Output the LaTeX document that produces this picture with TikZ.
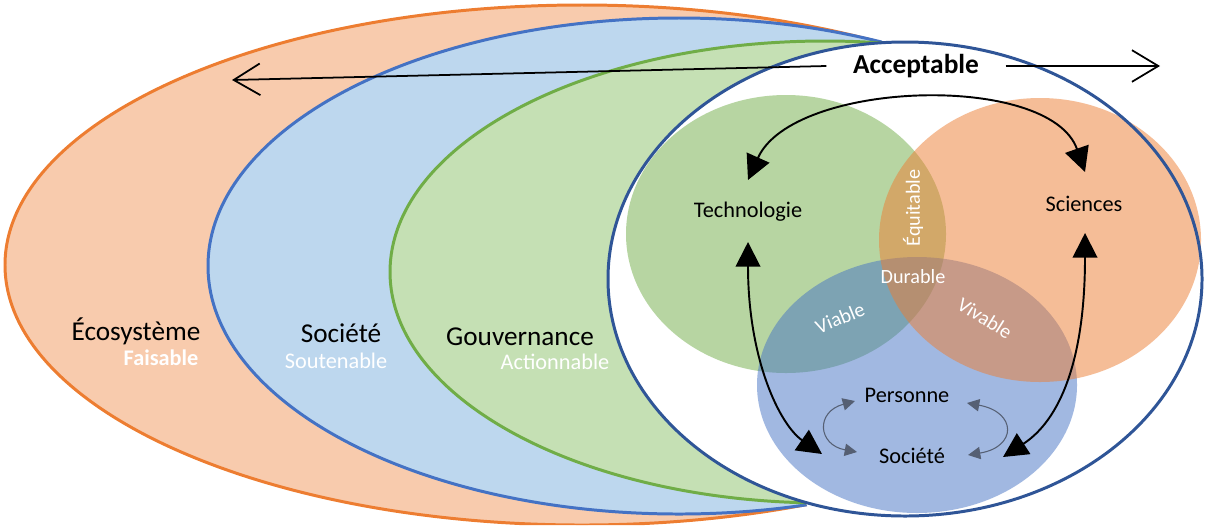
\documentclass[tikz,border=0pt]{standalone}
\usepackage{fontspec}
\setmainfont{Carlito}
\usepackage{xcolor}
\usetikzlibrary{arrows.meta, calc}

\definecolor{ecoorange}{HTML}{ED7D31}
\definecolor{ecofill}{HTML}{F8CBAD}
\definecolor{socblue}{HTML}{4472C4}
\definecolor{socfill}{HTML}{BDD7EE}
\definecolor{govgreen}{HTML}{70AD47}
\definecolor{govfill}{HTML}{C5E0B4}
\definecolor{accblue}{HTML}{2F5597}
\definecolor{slate}{RGB}{85,95,115}

\begin{document}
\begin{tikzpicture}[x=0.02cm, y=-0.02cm,
    bigfont/.style={font=\fontsize{15.5}{18}\selectfont},
    subfont/.style={font=\fontsize{12.7}{15}\selectfont, text=white},
    vennfont/.style={font=\fontsize{12.7}{15}\selectfont},
    interfont/.style={font=\fontsize{11.5}{14}\selectfont, text=white},
    link/.style={line width=1.1pt, {Triangle[length=14pt,width=14pt]}-{Triangle[length=14pt,width=14pt]}},
    minilink/.style={draw=slate, line width=0.6pt, {Triangle[length=7pt,width=7pt]}-{Triangle[length=7pt,width=7pt]}},
    spanline/.style={line width=1pt, -{Straight Barb[length=15pt,width=18pt]}}]
    \useasboundingbox (0,0) rectangle (1212,525);

    % nested ellipses, cut where they run under the acceptable one
    \begin{scope}
        \clip (882,42) arc[start angle=-94.4, end angle=109.7, x radius=297, y radius=237]
            -- (817,525) -- (0,525) -- (0,0) -- (882,0) -- cycle;
        \draw[fill=ecofill, draw=ecoorange, line width=1.7pt] (582,265) ellipse [x radius=577, y radius=260];
        \draw[fill=socfill, draw=socblue, line width=1.7pt] (679,266) ellipse [x radius=471, y radius=248];
        \draw[fill=govfill, draw=govgreen, line width=1.7pt] (825,272) ellipse [x radius=435, y radius=231];
    \end{scope}
    \fill[white] (905,279) ellipse [x radius=297, y radius=237];

    % venn
    \fill[govgreen, fill opacity=0.5] (786,234) ellipse [x radius=160, y radius=139];
    \fill[socblue, fill opacity=0.5] (917,385) ellipse [x radius=160, y radius=128];
    \fill[ecoorange, fill opacity=0.5] (1040,240) ellipse [x radius=161, y radius=142];
    \draw[accblue, line width=1.7pt] (905,279) ellipse [x radius=297, y radius=237];

    % labels
    \node[bigfont] (eco) at (136,331) {Écosystème};
    \node[subfont, font=\fontsize{12.7}{15}\selectfont\bfseries] (fais) at (161,358) {Faisable};
    \node[bigfont] (socl) at (341,333) {Société};
    \node[subfont] (sout) at (336,361) {Soutenable};
    \node[bigfont] (gouv) at (520,337) {Gouvernance};
    \node[subfont] (act) at (555,362) {Actionnable};

    \node[font=\fontsize{15.6}{18}\selectfont\bfseries, inner xsep=15pt] (acc) at (916,66) {Acceptable};
    \coordinate (accL) at (232,80);
    \coordinate (accR) at (1160,66);
    \draw[spanline] (acc.west) -- (accL);
    \draw[spanline] (acc.east) -- (accR);

    \node[vennfont] (tech) at (748,212) {Technologie};
    \node[vennfont] (sci) at (1084,204) {Sciences};
    \node[vennfont] (pers) at (907,395) {Personne};
    \node[vennfont] (soc) at (912,456) {Société};

    \node[interfont, rotate=90] (equi) at (913,208) {Équitable};
    \node[interfont] (dur) at (913,277) {Durable};
    \node[interfont, rotate=22] (via) at (840,318) {Viable};
    \node[interfont, rotate=-32] (viv) at (985,318) {Vivable};

    % links
    \draw[link] ($(tech)+(0,-32)$) .. controls (793,80) and (1050,72) .. ($(sci)+(1,-32)$);
    \draw[link] ($(tech)+(0,30)$) .. controls (748,360) and (780,425) .. ($(soc)+(-90,-2)$);
    \draw[link] ($(sci)+(1,29)$) .. controls (1085,360) and (1060,420) .. ($(soc)+(91,1)$);
    \draw[minilink] ($(pers)+(-52,6)$) .. controls (815,412) and (818,445) .. ($(soc)+(-55,-4)$);
    \draw[minilink] ($(pers)+(60,8)$) .. controls (1017,412) and (1017,447) .. ($(soc)+(56,-1)$);
\end{tikzpicture}
\end{document}
